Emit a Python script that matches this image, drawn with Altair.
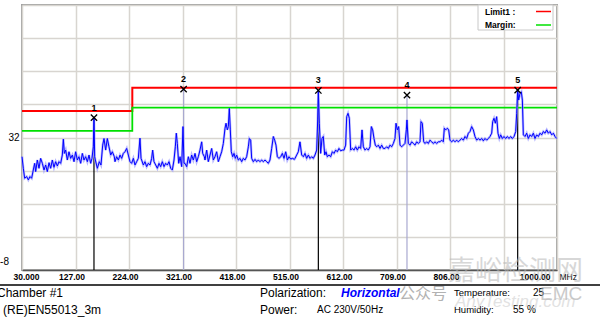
import altair as alt
import pandas as pd

# ---------------- data ----------------
# spectrum trace (MHz, dBuV/m)
freq = [
    30.0, 32.4, 34.8, 38.5, 41.5, 44.5, 47.5, 50.5, 53.0, 54.8, 57.8, 60.8, 63.8, 66.9, 69.9, 72.9,
    75.9, 79.0, 82.0, 85.0, 88.0, 91.0, 94.1, 97.1, 100.1, 103.1, 105.0, 106.8, 109.2, 112.2, 115.2,
    118.2, 121.3, 124.3, 127.3, 130.3, 133.3, 136.4, 139.4, 142.4, 145.4, 148.5, 151.5, 154.5, 156.9,
    159.3, 160.5, 161.8, 163.0, 166.6, 170.2, 173.2, 176.3, 178.7, 181.7, 184.7, 187.7, 190.8, 193.8,
    197.4,
    198.6, 201.6, 204.7, 207.7, 210.7, 213.7, 216.7, 219.8, 222.8, 225.8, 228.8, 231.9, 234.9, 237.9,
    240.9, 243.9, 245.8, 246.9, 250.0, 253.0, 256.0, 259.1, 262.1, 265.1, 266.9, 269.3, 272.4, 275.4,
    278.4, 281.4, 284.4, 287.5, 290.5, 293.5, 296.5, 299.6, 302.6, 305.6, 308.0, 309.8, 311.6, 314.1,
    316.5, 319.5, 321.9, 323.7, 325.5, 328.6, 331.6, 334.6, 337.6, 340.6, 343.7, 346.7, 349.7, 352.7,
    355.8, 357.6, 360.6,
    361.8, 364.8, 367.8, 370.9, 373.9, 376.9, 379.9, 382.9, 386.0, 389.0, 392.0, 395.0, 398.1, 399.9,
    402.3, 404.1, 405.9, 407.7, 409.5, 412.0, 414.4, 416.8, 419.2, 422.2, 425.3, 428.3, 431.3, 434.3,
    437.3, 440.4, 442.2, 444.6, 446.4, 449.4, 452.5, 455.5, 458.5, 461.5, 464.5, 467.6, 470.6, 473.6,
    476.6, 479.6, 482.7, 485.7, 488.1, 490.5, 493.0, 496.0, 499.0, 502.0, 505.0, 508.1, 511.1, 514.1,
    517.1, 520.7, 523.8,
    525.0, 528.0, 531.0, 534.0, 537.1, 540.1, 543.1, 546.1, 549.2, 552.2, 555.2, 558.2, 561.2, 564.3,
    566.1, 567.3, 569.1, 571.5, 573.9, 576.3, 578.8, 581.2, 583.6, 586.6, 589.6, 592.7, 595.7, 598.7,
    601.7, 604.7, 607.8, 610.8, 613.8, 616.8, 618.7, 621.1, 623.5, 625.9, 628.9, 631.9, 635.0, 638.0,
    641.0, 644.0, 646.5, 648.9, 651.9, 654.9, 657.9, 661.0, 663.4, 665.8, 668.2, 670.6, 673.1, 676.1,
    679.1, 682.1, 685.1,
    688.2, 691.2, 694.2, 697.2, 700.2, 703.3, 706.3, 708.1, 710.5, 712.9, 715.4, 718.4, 721.4, 724.4,
    726.8, 728.0, 730.5, 733.5, 736.5, 739.5, 742.6, 745.6, 748.6, 751.6, 753.4, 755.8, 758.3, 760.7,
    763.7, 766.7, 769.7, 772.8, 775.8, 778.8, 781.8, 784.9, 787.9, 790.9, 793.9, 795.7, 798.2, 801.2,
    803.6, 806.0, 809.0, 812.1, 815.1, 818.1, 821.1, 824.1, 827.2, 830.2, 833.2, 836.2, 839.3, 842.3,
    845.3, 848.3,
    851.3, 854.4, 857.4, 860.4, 863.4, 866.4, 869.5, 872.5, 875.5, 878.5, 881.6, 883.4, 885.8, 888.2,
    890.6, 893.0, 895.5, 897.9, 900.9, 903.9, 906.9, 910.0, 913.0, 916.0, 919.0, 922.1, 925.1, 926.9,
    928.7, 930.5, 932.9, 935.3, 937.2, 939.0, 942.0, 945.0, 948.0, 951.1, 954.1, 957.1, 960.1, 963.2,
    966.2, 969.2, 972.2, 975.2, 978.3, 981.3, 984.3, 987.3, 990.4, 993.4, 996.4, 999.4,
]
level = [
    26.2, 22.7, 19.7, 20.2, 19.2, 20.2, 19.7, 22.2, 24.2, 21.7, 25.2, 22.7, 25.7, 24.2, 22.2, 23.7,
    21.7, 24.4, 22.7, 25.2, 23.0, 24.7, 23.4, 24.7, 24.2, 26.7, 31.5, 27.2, 28.2, 25.2, 27.7,
    25.7, 26.7, 24.7, 27.7, 25.2, 26.2, 24.2, 27.2, 25.2, 26.2, 24.7, 26.7, 24.2, 25.7,
    29.2, 38.0, 26.2, 25.2, 22.7, 24.7, 23.7, 29.7, 31.7, 28.2, 31.7, 29.2, 26.7, 27.7,
    26.2,
    24.7, 26.2, 25.2, 26.7, 25.7, 27.2, 27.7, 28.7, 26.7, 24.7, 24.2, 25.7, 23.7, 24.7,
    25.7, 31.8, 25.7, 25.2, 23.7, 24.7, 23.2, 24.2, 23.7, 25.7, 28.2, 24.7, 23.7, 22.7,
    24.2, 23.2, 24.7, 23.2, 24.2, 23.7, 24.7, 22.7, 22.2, 25.2, 29.2, 33.3, 30.2, 24.2,
    26.2, 23.2, 35.3, 24.2, 24.2, 23.2, 26.2, 24.2, 26.7, 25.2, 27.2, 24.7, 26.2, 28.2,
    30.7, 27.2, 26.2,
    25.2, 28.2, 24.7, 26.7, 28.7, 25.2, 26.2, 27.7, 24.7, 26.2, 27.7, 30.2, 34.8, 36.3,
    34.3, 35.3, 40.8, 34.3, 27.7, 26.2, 27.2, 25.7, 26.7, 25.2, 25.7, 24.7, 25.7, 25.2,
    26.2, 29.2, 31.7, 31.2, 25.7, 24.7, 25.4, 24.7, 25.2, 24.7, 25.2, 24.7, 25.2, 24.7,
    24.2, 25.2, 28.7, 32.3, 31.2, 29.7, 26.2, 25.7, 26.2, 27.2, 25.7, 27.7, 25.2, 26.2,
    25.5, 25.7, 25.4,
    25.7, 26.7, 27.7, 30.7, 26.7, 26.2, 27.2, 25.7, 26.7, 25.7, 26.2, 25.7, 26.7, 28.2,
    37.3, 46.2, 36.3, 27.2, 31.7, 32.3, 26.7, 27.7, 26.2, 26.7, 26.2, 27.7, 27.2, 28.2,
    27.7, 28.7, 28.0, 28.2, 28.2, 29.7, 38.3, 39.3, 37.8, 28.2, 28.7, 28.2, 29.2, 28.2,
    29.2, 28.7, 34.3, 29.2, 28.2, 28.7, 28.2, 29.2, 35.3, 34.3, 31.7, 29.7, 29.2, 29.7,
    28.7, 29.7, 28.7,
    28.7, 29.2, 28.7, 29.7, 29.2, 30.2, 31.7, 36.3, 34.3, 35.3, 29.7, 29.2, 29.7, 30.2,
    34.3, 37.3, 30.2, 29.7, 30.7, 30.2, 29.7, 30.7, 30.2, 30.7, 36.8, 36.3, 30.7, 30.2,
    30.7, 30.2, 31.2, 30.7, 30.2, 30.7, 30.2, 30.7, 30.7, 31.2, 30.7, 34.8, 34.3, 34.8,
    34.3, 31.2, 30.7, 31.2, 30.7, 31.2, 30.7, 31.2, 31.7, 31.2, 32.3, 31.7, 33.3, 33.8,
    35.3, 34.3,
    32.3, 31.2, 31.7, 31.2, 31.7, 31.0, 31.7, 31.2, 31.7, 32.3, 33.3, 36.8, 37.8, 36.3,
    38.3, 33.3, 31.7, 32.8, 31.7, 32.3, 31.7, 32.3, 31.7, 32.3, 31.7, 32.3, 33.8, 39.3,
    46.3, 43.3, 45.3, 45.8, 43.3, 32.8, 32.3, 33.3, 31.7, 32.8, 32.3, 33.3, 31.7, 32.8,
    32.3, 33.3, 32.8, 33.8, 33.3, 34.3, 33.3, 33.8, 32.8, 33.3, 32.3, 31.7,
]

# limit lines
limit_freq = [30, 230, 230, 1000]
limit_level = [40, 40, 47, 47]
margin_level = [34, 34, 41, 41]

# markers
marker_no = [1, 2, 3, 4, 5]
marker_freq = [160.5, 323.0, 567.3, 728.0, 928.7]
marker_level = [38.0, 46.6, 46.2, 44.8, 46.3]

x_ticks = [30, 127, 224, 321, 418, 515, 612, 709, 806, 903, 1000]
y_ticks = [-8, 2, 12, 22, 32, 42, 52, 62, 72]

FONT = "Liberation Sans"

trace = pd.DataFrame({"freq": freq, "level": level})
limits = pd.DataFrame({"freq": limit_freq, "limit": limit_level, "margin": margin_level})
markers = pd.DataFrame({"no": marker_no, "freq": marker_freq, "level": marker_level})
markers["floor"] = y_ticks[0]
one = pd.DataFrame({"a": [0]})

xscale = alt.Scale(domain=[x_ticks[0], x_ticks[-1]], nice=False, zero=False)
yscale = alt.Scale(domain=[y_ticks[0], y_ticks[-1]], nice=False, zero=False)

xaxis = alt.Axis(
    values=x_ticks,
    labelExpr="datum.value == 30 ? '30.000' : (datum.value == 903 ? '' : format(datum.value, '.2f'))",
    labelAlign={"condition": [{"test": "datum.value == 1000", "value": "right"},
                              {"test": "datum.value == 30", "value": "left"}],
                "value": "center"},
    labelOffset={"condition": [{"test": "datum.value == 1000", "value": -7},
                               {"test": "datum.value == 30", "value": -9}],
                 "value": -4},
    labelFont=FONT, labelFontSize=8.5, labelFontWeight="bold", labelColor="black",
    labelPadding=2, labelOverlap=False, labelFlush=False,
    ticks=False, domainColor="#555555", domainWidth=1.5,
    gridColor="#d8d5d0", gridWidth=1.5,
    title="MHz", titleFont=FONT, titleFontSize=8.5, titleFontWeight="normal",
    titleColor="black", titleX=537, titleY=2, titleAlign="left", titleBaseline="top",
)
yaxis = alt.Axis(
    values=y_ticks,
    labelExpr="datum.value == 32 ? '32' : ''",
    labelFont=FONT, labelFontSize=10, labelColor="black", labelPadding=3,
    labelOverlap=False,
    ticks=False, domain=False, gridColor="#d8d5d0", gridWidth=1.5, title=None,
)

X = alt.X("freq:Q", scale=xscale, axis=xaxis)


def Y(field):
    return alt.Y(f"{field}:Q", scale=yscale, axis=yaxis)


limit_line = alt.Chart(limits).mark_line(color="#ff0000", strokeWidth=2).encode(x=X, y=Y("limit"))
margin_line = alt.Chart(limits).mark_line(color="#00e000", strokeWidth=1.8).encode(x=X, y=Y("margin"))

marker_rules = alt.Chart(markers).mark_rule(strokeWidth=1.2).encode(
    x=X, y=Y("level"), y2="floor:Q",
    color=alt.condition("datum.no % 2 == 1", alt.value("black"), alt.value("#a9a9d0")),
)

halo = alt.Chart(trace).mark_line(color="#a6a6ff", strokeWidth=2.4, opacity=0.8).encode(x=X, y=Y("level"))
line = alt.Chart(trace).mark_line(color="#0000ff", strokeWidth=1).encode(x=X, y=Y("level"))

marks_x = alt.Chart(markers).mark_point(
    shape="M-1,-1L1,1M-1,1L1,-1", filled=False, color="black", strokeWidth=1.3, size=40, opacity=1
).encode(x=X, y=Y("level"))
marks_lbl = alt.Chart(markers).mark_text(
    font=FONT, fontSize=9, fontWeight="bold", dy=-10, fill="black"
).encode(x=X, y=Y("level"), text="no:N")

# the lowest y label (-8), placed a little further left as in the reference
ymin_lbl = alt.Chart(one).mark_text(
    font=FONT, fontSize=10, align="right", baseline="middle", dy=-8, fill="black"
).encode(x=alt.value(-13), y=alt.datum(y_ticks[0], scale=yscale, axis=yaxis), text=alt.value("-8"))


def txt(s, x, y, size=12, weight="normal", style="normal", color="black", opacity=1.0, font=FONT):
    return alt.Chart(one).mark_text(
        align="left", baseline="middle", font=font, fontSize=size, fontWeight=weight,
        fontStyle=style, color=color, opacity=opacity,
    ).encode(x=alt.value(x), y=alt.value(y), text=alt.value(s))


# legend box (top right inside plot)
legend_box = alt.Chart(one).mark_rect(fill="white", stroke="#c8c8c8", strokeWidth=1).encode(
    x=alt.value(456), x2=alt.value(531), y=alt.value(0), y2=alt.value(25))
leg_red = alt.Chart(one).mark_rule(color="#ff0000", strokeWidth=1.5).encode(
    x=alt.value(514), x2=alt.value(529), y=alt.value(6.5))
leg_green = alt.Chart(one).mark_rule(color="#00e000", strokeWidth=1.5).encode(
    x=alt.value(514), x2=alt.value(529), y=alt.value(20))
leg_t1 = txt("Limit1 :", 463, 6.5, size=8.5, weight="bold")
leg_t2 = txt("Margin:", 463, 19.5, size=8.5, weight="bold")

# footer
sep = alt.Chart(one).mark_rule(color="black", strokeWidth=1.5).encode(
    x=alt.value(-22), x2=alt.value(578), y=alt.value(280))
footer = [
    txt("Chamber #1", -25, 288),
    txt("(RE)EN55013_3m", -19, 305),
    txt("Polarization:", 238, 288),
    txt("Horizontal", 319, 288, weight="bold", style="italic", color="#0000ff"),
    txt("Power:", 238, 305),
    txt("AC 230V/50Hz", 295, 305, size=10),
    txt("Temperature:", 432, 288, size=9.5),
    txt("25", 511, 288, size=10),
    txt("Humidity:", 432, 305, size=9.5),
    txt("55 %", 491, 305, size=10),
]
# watermark
watermark = [
    txt("嘉峪检测网", 426, 267, size=27, color="#b8b8b8", opacity=0.55, font="Noto Sans CJK SC"),
    txt("公众号", 377, 289, size=16, color="#a0a0a0", opacity=0.8, font="Noto Sans CJK SC"),
    txt("EMC", 518, 289, size=19, color="#a8a8a8", opacity=0.6),
    txt("AnyTesting.com", 433, 297, size=17, style="italic", color="#c0c0c0", opacity=0.45),
]

chart = alt.layer(
    marker_rules, limit_line, margin_line, halo, line, marks_x, marks_lbl, ymin_lbl,
    legend_box, leg_red, leg_green, leg_t1, leg_t2, sep, *footer, *watermark,
).properties(
    width=535, height=265, autosize="none",
    padding={"left": 22, "top": 5, "right": 43, "bottom": 48},
    background="white",
).configure_view(stroke="#a0a0a0", strokeWidth=2)

chart.save("out.html", embed_options={"renderer": "svg", "actions": False})
